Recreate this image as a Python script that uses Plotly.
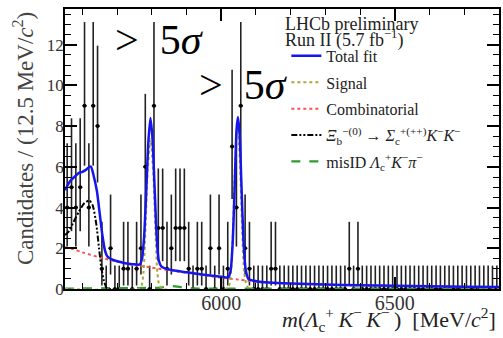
import plotly.graph_objects as go

# ---------------- data ----------------
bin_lo = 5550.0
bin_width = 12.5
counts = [4, 5, 4, 5, 9, 4, 9, 8, 1, 0,
          2, 0, 0, 1, 1, 0, 1, 2, 6, 0,
          9, 3, 3, 1, 2, 3, 3, 3, 1, 0,
          1, 1, 0, 2, 0, 2, 0, 1, 7, 4,
          9, 2, 1, 0, 0, 0, 0, 1, 1, 0,
          0, 0, 0, 0, 0, 0, 0, 0, 0, 0,
          0, 0, 0, 0, 0, 1, 0, 1, 0, 0,
          0, 0, 0, 0, 0, 0, 0, 0, 0, 0,
          0, 0, 0, 0, 0, 0, 0, 0, 0, 0,
          0, 0, 0, 0, 0, 0, 0, 0, 0, 0]
bin_centers = [bin_lo + bin_width * (i + 0.5) for i in range(len(counts))]

# 68% Poisson intervals (low, high) for counts 0..9
poisson68 = {0: (0.0, 1.148), 1: (0.173, 3.300), 2: (0.708, 4.638), 3: (1.367, 5.918),
             4: (2.086, 7.163), 5: (2.840, 8.382), 6: (3.620, 9.584), 7: (4.419, 10.77),
             8: (5.232, 11.95), 9: (6.057, 13.11)}
err_plus = [poisson68[n][1] - n for n in counts]
err_minus = [n - poisson68[n][0] for n in counts]

total_m = [5550, 5565, 5580, 5590, 5600, 5610, 5620, 5625, 5632, 5642, 5650, 5658, 5665, 5672,
           5685, 5700, 5720, 5745, 5765, 5772, 5778, 5784, 5790, 5796, 5802, 5808, 5814, 5820,
           5828, 5840, 5860, 5900, 5950, 6000, 6020, 6027, 6033, 6039, 6044, 6048, 6053, 6058,
           6064, 6070, 6078, 6090, 6110, 6150, 6200, 6300, 6400, 6500, 6600, 6700, 6800]
total_v = [4.85, 5.3, 5.55, 5.7, 5.75, 5.85, 6.0, 6.0, 5.6, 4.8, 3.7, 2.6, 1.9, 1.6,
           1.45, 1.36, 1.28, 1.22, 1.2, 1.5, 2.6, 4.8, 7.2, 8.4, 7.4, 5.0, 2.6, 1.4,
           1.1, 1.0, 0.92, 0.82, 0.7, 0.6, 0.57, 0.9, 2.3, 5.2, 7.8, 8.45, 7.6, 5.2,
           2.4, 1.0, 0.5, 0.42, 0.36, 0.31, 0.27, 0.22, 0.18, 0.155, 0.135, 0.115, 0.1]

signal_m = [5550, 5760, 5770, 5776, 5782, 5788, 5796, 5804, 5810, 5816, 5822, 5832,
            6012, 6022, 6028, 6034, 6040, 6047, 6054, 6060, 6066, 6074, 6084, 6800]
signal_v = [0, 0, 0.15, 0.8, 3.0, 5.8, 7.35, 5.8, 3.0, 0.8, 0.15, 0,
            0, 0.15, 0.8, 3.0, 6.2, 7.95, 6.2, 3.0, 0.8, 0.15, 0, 0]

comb_m = [5550, 5575, 5600, 5650, 5700, 5750, 5800, 5850, 5900, 5950, 6000, 6050,
          6100, 6150, 6200, 6300, 6400, 6500, 6600, 6700, 6800]
comb_v = [2.05, 1.95, 1.8, 1.55, 1.35, 1.18, 1.05, 0.92, 0.8, 0.68, 0.56, 0.46,
          0.36, 0.3, 0.26, 0.21, 0.17, 0.15, 0.13, 0.11, 0.1]

xib_m = [5550, 5560, 5575, 5590, 5605, 5620, 5630, 5640, 5648, 5655, 5662, 5670, 5680, 5700]
xib_v = [2.65, 2.8, 3.3, 3.8, 4.2, 4.35, 4.1, 3.2, 2.0, 1.0, 0.4, 0.05, 0, 0]

misid_m = [5550, 5800, 5825, 5840, 5860, 5880, 5900, 5950, 6800]
misid_v = [0.02, 0.03, 0.06, 0.12, 0.14, 0.1, 0.04, 0.02, 0.01]

x_tick_vals = [6000, 6500]
x_tick_text = ["6000", "6500"]

# ---------------- figure ----------------
SERIF = "Liberation Serif, Times New Roman, serif"
fig = go.Figure()

fig.add_trace(go.Scatter(
    x=bin_centers, y=counts, mode="markers", showlegend=False,
    marker=dict(color="black", size=4),
    error_x=dict(type="constant", value=bin_width / 2, color="#222", thickness=1.5, width=0),
    error_y=dict(type="data", symmetric=False, array=err_plus, arrayminus=err_minus,
                 color="#222", thickness=1.6, width=0),
))

fig.add_trace(go.Scatter(x=misid_m, y=misid_v, mode="lines", legendgroup="g5",
                         name="misID <i>Λ</i><sub>c</sub><sup>+</sup><i>K</i><sup>−</sup><i>π</i><sup>−</sup>",
                         line=dict(color="#2e9a2e", width=2.2, dash="dash"), legendrank=5))
fig.add_trace(go.Scatter(x=comb_m, y=comb_v, mode="lines", name="Combinatorial", legendgroup="g3",
                         line=dict(color="#ff5050", width=2, dash="dot", shape="spline", smoothing=0.6),
                         legendrank=3))
fig.add_trace(go.Scatter(x=xib_m, y=xib_v, mode="lines", legendgroup="g4",
                         name="<i>Ξ</i><sub>b</sub><sup>−(0)</sup> → <i>Σ</i><sub>c</sub><sup>+(++)</sup><i>K</i><sup>−</sup><i>K</i><sup>−</sup>",
                         line=dict(color="black", width=2, dash="6px,2px,2px,2px,2px,2px",
                                   shape="spline", smoothing=0.6), legendrank=4))
fig.add_trace(go.Scatter(x=signal_m, y=signal_v, mode="lines", name="Signal", legendgroup="g2",
                         line=dict(color="#a8a83a", width=2, dash="dot", shape="spline", smoothing=0.6),
                         legendrank=2))
fig.add_trace(go.Scatter(x=total_m, y=total_v, mode="lines", name="Total fit", legendgroup="g1",
                         line=dict(color="#1515ee", width=2.5, shape="spline", smoothing=0.6),
                         legendrank=1))

fig.update_layout(
    width=503, height=338,
    margin=dict(l=65, r=2, t=9, b=49),
    paper_bgcolor="white", plot_bgcolor="white",
    font=dict(family=SERIF, color="#222", size=17),
    legend=dict(x=0.51, y=0.893, xanchor="left", yanchor="top", bgcolor="rgba(0,0,0,0)",
                font=dict(family=SERIF, size=16, color="#222"), itemwidth=30,
                tracegroupgap=2.6, traceorder="grouped"),
    xaxis=dict(range=[5550, 6800], showline=True, linecolor="black", linewidth=1.5, mirror="ticks",
               ticks="inside", ticklen=12, tickwidth=1.5, tickcolor="black",
               tickvals=x_tick_vals, ticktext=x_tick_text, showgrid=False, zeroline=False,
               ticklabelstandoff=-5,
               tickfont=dict(family=SERIF, size=20, color="#333"),
               minor=dict(dtick=100, ticks="inside", ticklen=6, tickcolor="black", tickwidth=1.2)),
    yaxis=dict(range=[0, 13.75], showline=True, linecolor="black", linewidth=1.5, mirror="ticks",
               ticks="inside", ticklen=12, tickwidth=1.5, tickcolor="black",
               dtick=2, showgrid=False, zeroline=False, ticklabelstandoff=-4,
               tickfont=dict(family=SERIF, size=17, color="#333"),
               minor=dict(dtick=0.5, ticks="inside", ticklen=6, tickcolor="black", tickwidth=1.2)),
)

annotations = [
    dict(text="LHCb preliminary", x=0.503, y=0.948, xref="paper", yref="paper",
         xanchor="left", yanchor="middle", showarrow=False, font=dict(family=SERIF, size=18, color="#222")),
    dict(text="Run II (5.7 fb<sup>−1</sup>)", x=0.503, y=0.892, xref="paper", yref="paper",
         xanchor="left", yanchor="middle", showarrow=False, font=dict(family=SERIF, size=18, color="#222")),
    dict(text="&gt;&#8194;5<i>σ</i>", x=0.11, y=0.89, xref="paper", yref="paper",
         xanchor="left", yanchor="middle", showarrow=False, font=dict(family=SERIF, size=42, color="black")),
    dict(text="&gt;&#8194;5<i>σ</i>", x=0.305, y=0.728, xref="paper", yref="paper",
         xanchor="left", yanchor="middle", showarrow=False, font=dict(family=SERIF, size=42, color="black")),
    dict(text="<i>m</i>(<i>Λ</i><sub>c</sub><sup>+</sup>&#8201;<i>K</i><sup>−</sup>&#8201;<i>K</i><sup>−</sup>&#8201;)&#8194;[MeV/<i>c</i><sup>2</sup>]",
         x=0.997, y=-0.11, xref="paper", yref="paper", xanchor="right", yanchor="middle",
         showarrow=False, font=dict(family=SERIF, size=22, color="#222")),
    dict(text="Candidates / (12.5 MeV/<i>c</i><sup>2</sup>)", x=-0.095, y=0.997, xref="paper", yref="paper",
         xanchor="center", yanchor="top", textangle=-90, showarrow=False,
         font=dict(family=SERIF, size=23, color="#444")),
]
fig.update_layout(annotations=annotations)

fig.write_html("out.html", config={"displayModeBar": False},
               post_script="document.body.style.margin='0';document.body.style.overflow='hidden';")
